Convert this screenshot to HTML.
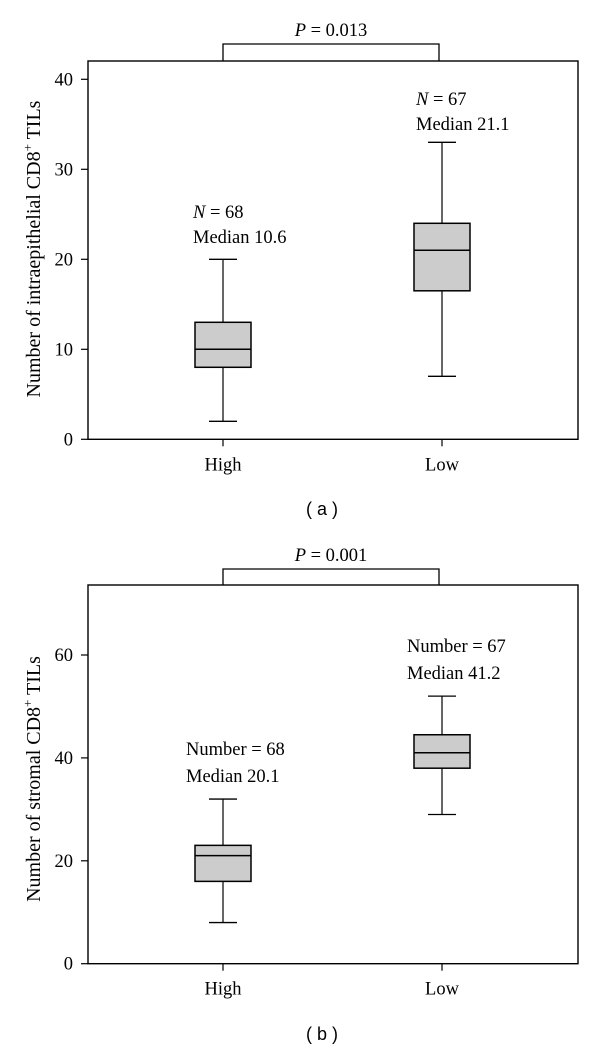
<!DOCTYPE html>
<html><head><meta charset="utf-8"><style>
html,body{margin:0;padding:0;background:#fff;}
svg{display:block;font-family:"Liberation Serif",serif;}
</style></head><body>
<svg id="c" width="600" height="1049" viewBox="0 0 600 1049"></svg>
<script>
const categories = ["High","Low"];
const aWhiskerLow = [2,7], aQ1 = [8,16.5], aMedian = [10,21], aQ3 = [13,24], aWhiskerHigh = [20,33];
const aTicks = [0,10,20,30,40];
const aNotes = [["N = 68","Median 10.6"],["N = 67","Median 21.1"]];
const bWhiskerLow = [8,29], bQ1 = [16,38], bMedian = [21,41], bQ3 = [23,44.5], bWhiskerHigh = [32,52];
const bTicks = [0,20,40,60];
const bNotes = [["Number = 68","Median 20.1"],["Number = 67","Median 41.2"]];

const svg = document.getElementById('c');
const NS = 'http://www.w3.org/2000/svg';
function mk(tag, attrs, parent){const e=document.createElementNS(NS,tag);for(const k in attrs)e.setAttribute(k,attrs[k]);(parent||svg).appendChild(e);return e;}
const FS = 18.5;
function panel(cfg){
  const g = mk('g',{});
  
  
  const L=88,R=578,T=cfg.top,B=cfg.bottom;
  const y = v => B - v * cfg.ppu;
  const xc = [223, 442];
  const frame = mk('rect',{x:L,y:T,width:R-L,height:B-T,fill:'none',stroke:'#000','stroke-width':1.4},g);
  
  
  cfg.ticks.forEach(t=>{
    const ln = mk('line',{x1:L-7,x2:L,y1:y(t),y2:y(t),stroke:'#000','stroke-width':1.2},g);
    
    
    const tx = mk('text',{x:L-15,y:y(t)+6,'text-anchor':'end','font-size':FS},g);
    tx.textContent = t;
    
    
  });
  categories.forEach((c,i)=>{
    const x=xc[i];
    const tk = mk('line',{x1:x,x2:x,y1:B,y2:B+7,stroke:'#000','stroke-width':1.2},g);
    
    
    const lb = mk('text',{x:x,y:B+31,'text-anchor':'middle','font-size':FS},g);
    lb.textContent = c;
    
    
    const wl = mk('line',{x1:x,x2:x,y1:y(cfg.wl[i]),y2:y(cfg.wh[i]),stroke:'#000','stroke-width':1.2},g);
    
    
    [cfg.wl[i],cfg.wh[i]].forEach(v=>{
      const cap = mk('line',{x1:x-14,x2:x+14,y1:y(v),y2:y(v),stroke:'#000','stroke-width':1.3},g);
      
      
    });
    const bx = mk('rect',{x:x-28,y:y(cfg.q3[i]),width:56,height:y(cfg.q1[i])-y(cfg.q3[i]),fill:'#cccccc',stroke:'#000','stroke-width':1.5},g);
    
    
    const md = mk('line',{x1:x-28,x2:x+28,y1:y(cfg.med[i]),y2:y(cfg.med[i]),stroke:'#000','stroke-width':1.5},g);
    
    
    const np = cfg.notePos[i];
    cfg.notes[i].forEach((s,j)=>{
      const t = mk('text',{x:np[0],y:np[1]+j*cfg.noteGap,'font-size':FS},g);
      if(s.startsWith('N =')){
        const it = mk('tspan',{'font-style':'italic'},t); it.textContent='N';
        const r = mk('tspan',{},t); r.textContent=s.slice(1);
      } else t.textContent = s;
      
      
    });
  });
  const br = mk('polyline',{points:`${xc[0]},${T} ${xc[0]},${cfg.brY} ${xc[1]-3},${cfg.brY} ${xc[1]-3},${T}`,fill:'none',stroke:'#000','stroke-width':1.3},g);
  
  
  const p = mk('text',{x:331,y:cfg.brY-8,'text-anchor':'middle','font-size':FS},g);
  const pi = mk('tspan',{'font-style':'italic'},p); pi.textContent='P';
  const pr = mk('tspan',{},p); pr.textContent=' = '+cfg.p;
  
  
  const yt = mk('text',{x:0,y:0,'text-anchor':'middle','font-size':20,transform:`translate(40,${cfg.ytY}) rotate(-90)`},g);
  const a1 = mk('tspan',{},yt); a1.textContent=cfg.ytitle;
  const sup = mk('tspan',{'font-size':13,dy:-8},yt); sup.textContent='+';
  const a2 = mk('tspan',{dy:8},yt); a2.textContent=' TILs';
  
  
  const cap = mk('text',{x:322,y:cfg.capY,'text-anchor':'middle','font-size':18,'font-family':'"Liberation Sans",sans-serif'},g);
  cap.textContent = cfg.cap;
  
  
}
panel({name:'panel-a',top:61,bottom:439.3,ppu:9,ticks:aTicks,wl:aWhiskerLow,q1:aQ1,med:aMedian,q3:aQ3,wh:aWhiskerHigh,
  notes:aNotes,notePos:[[193,218],[416,105]],noteGap:25,brY:44,p:'0.013',ytitle:'Number of intraepithelial CD8',ytY:249,cap:'( a )',capY:515});
panel({name:'panel-b',top:585,bottom:963.7,ppu:5.145,ticks:bTicks,wl:bWhiskerLow,q1:bQ1,med:bMedian,q3:bQ3,wh:bWhiskerHigh,
  notes:bNotes,notePos:[[186,755],[407,652]],noteGap:27,brY:569,p:'0.001',ytitle:'Number of stromal CD8',ytY:779,cap:'( b )',capY:1040});
</script>
</body></html>
